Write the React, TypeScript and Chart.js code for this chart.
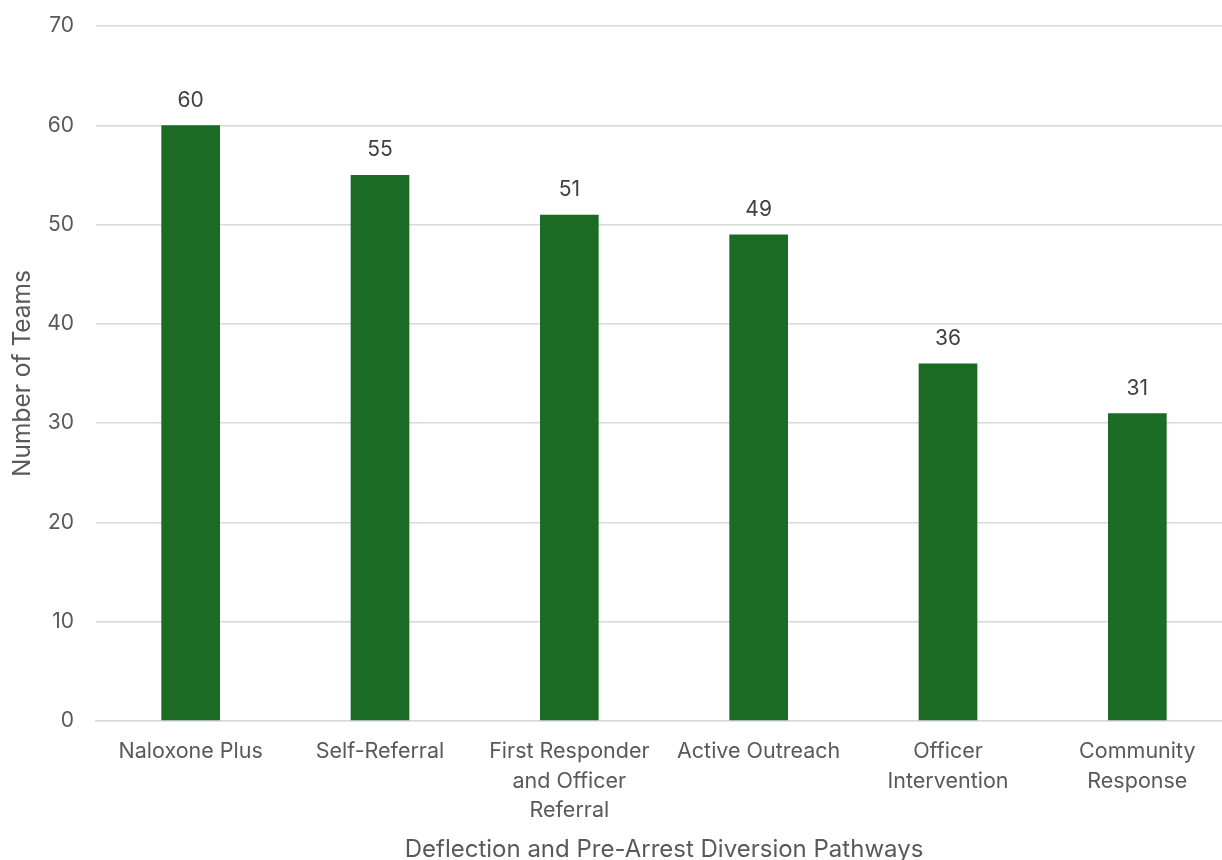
import React, { useEffect, useRef } from "react";
import { Chart, registerables } from "chart.js";

Chart.register(...registerables);

const categories: (string | string[])[] = [
  "Naloxone Plus",
  "Self-Referral",
  ["First Responder", "and Officer", "Referral"],
  "Active Outreach",
  ["Officer", "Intervention"],
  ["Community", "Response"],
];
const teamCounts = [60, 55, 51, 49, 36, 31];
const yTicks = [0, 10, 20, 30, 40, 50, 60, 70];
const yTitle = "Number of Teams";
const xTitle = "Deflection and Pre-Arrest Diversion Pathways";

const FONT = "Inter, 'Noto Sans', sans-serif";
const TEXT = "#595959";
const BAR = "#1b6b24";
const GRID = "#d9d9d9";

const valueLabels = {
  id: "valueLabels",
  afterDatasetsDraw(chart: any) {
    const ctx = chart.ctx;
    const meta = chart.getDatasetMeta(0);
    ctx.save();
    ctx.font = `21px ${FONT}`;
    ctx.fillStyle = "#404040";
    ctx.textAlign = "center";
    ctx.textBaseline = "middle";
    meta.data.forEach((el: any, i: number) => {
      ctx.fillText(String(teamCounts[i]), el.x, el.y - 25);
    });
    ctx.restore();
  },
};

export default function App() {
  const ref = useRef<HTMLCanvasElement | null>(null);
  useEffect(() => {
    if (!ref.current) return;
    const chart = new Chart(ref.current, {
      type: "bar",
      data: {
        labels: categories,
        datasets: [
          {
            data: teamCounts,
            backgroundColor: BAR,
            borderWidth: 0,
            barPercentage: 0.31,
            categoryPercentage: 1,
          },
        ],
      },
      options: {
        animation: false,
        responsive: false,
        maintainAspectRatio: false,
        layout: { padding: { top: 26, right: 8, left: 0, bottom: 0 } },
        plugins: { legend: { display: false }, tooltip: { enabled: false } },
        scales: {
          x: {
            grid: { display: false, drawTicks: false },
            border: { display: true, color: GRID, width: 1.5 },
            ticks: {
              color: TEXT,
              font: { family: FONT, size: 21.5, lineHeight: 1.37 },
              padding: 16,
              maxRotation: 0,
              autoSkip: false,
            },
            title: {
              display: true,
              text: xTitle,
              color: TEXT,
              font: { family: FONT, size: 24, lineHeight: 1 },
              padding: { top: 0, bottom: -2 },
            },
            afterFit(scale: any) {
              scale.height = 139;
              scale.paddingLeft = 0;
              scale.paddingRight = 0;
            },
          },
          y: {
            min: 0,
            max: 70,
            afterBuildTicks(scale: any) {
              scale.ticks = yTicks.map((v) => ({ value: v }));
            },
            grid: { color: GRID, lineWidth: 1.5, drawTicks: false },
            border: { display: false },
            ticks: {
              color: TEXT,
              font: { family: FONT, size: 21 },
              padding: 22,
            },
            title: {
              display: true,
              text: yTitle,
              color: TEXT,
              font: { family: FONT, size: 24.5, lineHeight: 1.2 },
              padding: { top: 8, bottom: 0 },
            },
            afterFit(scale: any) {
              scale.width = 96;
              scale.paddingTop = 0;
              scale.paddingBottom = 0;
            },
          },
        },
      },
      plugins: [valueLabels],
    });
    return () => chart.destroy();
  }, []);
  return (
    <div
      style={{
        position: "absolute",
        left: 0,
        top: 0,
        width: 1222,
        height: 860,
        overflow: "hidden",
        background: "#fff",
      }}
    >
      <canvas ref={ref} width={1240} height={860} style={{ display: "block" }} />
    </div>
  );
}
